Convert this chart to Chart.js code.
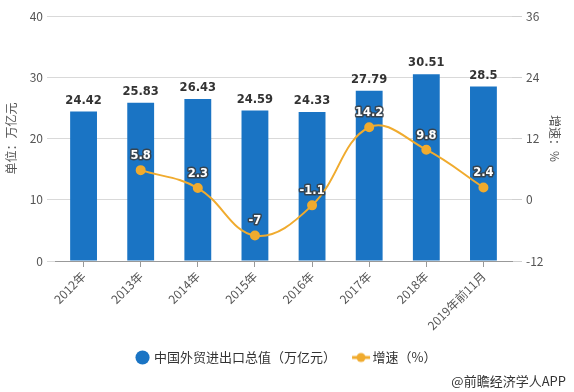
<!DOCTYPE html>
<html><head><meta charset="utf-8">
<script src="https://cdn.jsdelivr.net/npm/chart.js@4/dist/chart.umd.min.js"></script>
<style>html,body{margin:0;padding:0;background:#fff;}#wrap{width:574px;height:392px;position:relative;}</style>
</head><body><div id="wrap"><canvas id="c" width="574" height="392"></canvas></div>
<script>
const categories = ["2012年","2013年","2014年","2015年","2016年","2017年","2018年","2019年前11月"];
const totalValues = [24.42,25.83,26.43,24.59,24.33,27.79,30.51,28.5];
const growthValues = [null,5.8,2.3,-7,-1.1,14.2,9.8,2.4];
const leftTicks = [0,10,20,30,40];
const rightTicks = [-12,0,12,24,36];

const BLUE = "#1a74c4", ORANGE = "#f0ab2e";
const FONT = "'Noto Sans CJK SC','Microsoft YaHei',sans-serif";
const NUMFONT = "'DejaVu Sans',sans-serif";

const lineIcon = document.createElement('canvas');
lineIcon.width = 20; lineIcon.height = 12;
(function(){const g=lineIcon.getContext('2d');g.strokeStyle=ORANGE;g.lineWidth=3;g.beginPath();g.moveTo(1,6);g.lineTo(19,6);g.stroke();g.fillStyle=ORANGE;g.beginPath();g.arc(10,6,4.5,0,Math.PI*2);g.fill();})();

const labelPlugin = {
  id:'labels',
  afterDatasetsDraw(chart){
    const ctx = chart.ctx;
    ctx.save();
    ctx.textAlign='center'; ctx.textBaseline='bottom';
    ctx.font = "bold 11.5px " + NUMFONT;
    const m0 = chart.getDatasetMeta(0);
    m0.data.forEach((el,i)=>{ ctx.fillStyle='#333'; ctx.fillText(String(totalValues[i]), el.x, el.y-5); });
    const m1 = chart.getDatasetMeta(1);
    ctx.textBaseline='middle';
    m1.data.forEach((el,i)=>{
      if(growthValues[i]===null) return;
      const t = String(growthValues[i]);
      ctx.lineWidth=3; ctx.strokeStyle='rgba(60,60,60,0.85)'; ctx.lineJoin='round';
      ctx.strokeText(t, el.x, el.y-14);
      ctx.fillStyle='#fff'; ctx.fillText(t, el.x, el.y-14);
    });
    ctx.font = "13px " + FONT; ctx.fillStyle='#333'; ctx.textAlign='right'; ctx.textBaseline='middle';
    ctx.fillText("@前瞻经济学人APP", 566, 381);
    ctx.restore();
  }
};

new Chart(document.getElementById('c'), {
  data:{
    labels: categories,
    datasets:[
      {type:'bar', label:'中国外贸进出口总值（万亿元）', data: totalValues, backgroundColor: BLUE, yAxisID:'y', categoryPercentage:0.94, barPercentage:0.5, order:2, pointStyle:'circle'},
      {type:'line', label:'增速（%）', data: growthValues, borderColor: ORANGE, backgroundColor: ORANGE, borderWidth:2, pointRadius:4, pointBackgroundColor:ORANGE, pointBorderColor:ORANGE, tension:0.4, yAxisID:'y1', order:1, spanGaps:false, pointStyle:'circle'}
    ]
  },
  options:{
    responsive:false, animation:false,
    layout:{padding:{left:4,right:4,top:16,bottom:18}},
    plugins:{
      legend:{position:'bottom', labels:{usePointStyle:true, boxHeight:10, boxWidth:10, font:{size:13, family:FONT}, color:'#333', padding:20,
        generateLabels(chart){
          return chart.data.datasets.map((d,i)=>({text:d.label, fillStyle:i===0?BLUE:ORANGE, strokeStyle:i===0?BLUE:ORANGE, lineWidth:0, pointStyle:i===0?'circle':lineIcon, datasetIndex:i, hidden:false, fontColor:'#333'}));
        }}},
      tooltip:{enabled:false}
    },
    scales:{
      x:{grid:{display:true, drawOnChartArea:false, offset:false, tickLength:6, color:'#999'}, border:{color:'#999'},
        ticks:{minRotation:45, maxRotation:45, color:'#555', font:{size:12, family:FONT}, padding:2},
        afterFit(s){ s.height = 70; }},
      y:{position:'left', min:0, max:40, afterBuildTicks(s){ s.ticks = leftTicks.map(v=>({value:v})); },
        grid:{color:'#d9d9d9', tickLength:8, drawTicks:true}, border:{display:false},
        ticks:{color:'#555', font:{size:12, family:FONT}, padding:4},
        title:{display:true, text:'单位：万亿元', color:'#555', font:{size:12, family:FONT}, padding:0},
        afterFit(s){ s.width = 51; }},
      y1:{position:'right', min:-12, max:36, afterBuildTicks(s){ s.ticks = rightTicks.map(v=>({value:v})); },
        grid:{drawOnChartArea:false, drawTicks:true, color:'#d0d0d0', tickLength:10}, border:{display:false},
        ticks:{color:'#555', font:{size:12, family:FONT}, padding:4},
        title:{display:true, text:'增速：%', color:'#555', font:{size:12, family:FONT}, padding:{top:8,bottom:0}},
        afterFit(s){ s.width = 58; }}
    }
  },
  plugins:[labelPlugin]
});
</script></body></html>
